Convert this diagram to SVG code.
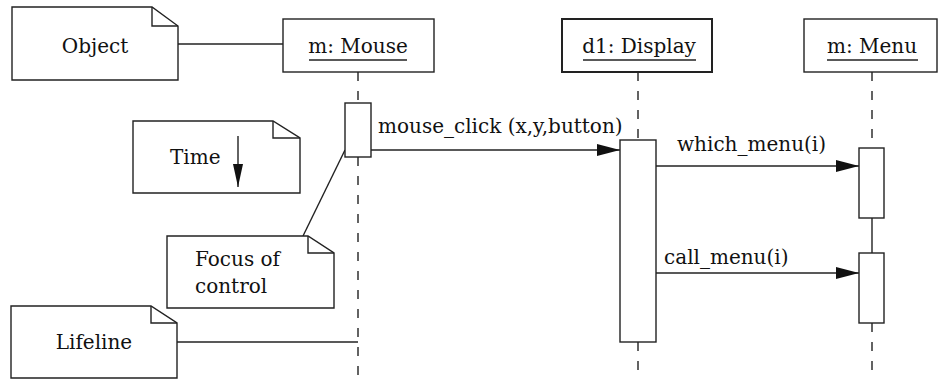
<svg xmlns="http://www.w3.org/2000/svg" width="939" height="380" viewBox="0 0 939 380">
<defs>
<marker id="arr" markerWidth="23" markerHeight="14" refX="23" refY="7" orient="auto" markerUnits="userSpaceOnUse">
<path d="M0,1 L23,7 L0,13 Z" fill="#111"/>
</marker>
<marker id="arrv" markerWidth="12" markerHeight="23" refX="6" refY="23" orient="0" markerUnits="userSpaceOnUse">
<path d="M1,0 L6,23 L11,0 Z" fill="#111"/>
</marker>
<style>
.s{fill:#fff;stroke:#222;stroke-width:1.4}
.l{fill:none;stroke:#222;stroke-width:1.4}
.d{fill:none;stroke:#222;stroke-width:1.4;stroke-dasharray:9 10}
.t{font-family:"DejaVu Serif","Liberation Serif",serif;font-size:20px;fill:#111}
</style>
</defs>
<rect width="939" height="380" fill="#fff"/>
<g id="lifelines">
<path class="d" d="M358,72 V103 M358,157 V380"/>
<path class="d" d="M638,72 V140 M638,342 V380"/>
<path class="d" d="M872,72 V148 M872,323 V380"/>
<path class="l" d="M872,218 V253"/>
</g>
<g id="connectors">
<path class="l" d="M178,44 H283"/>
<path class="l" d="M345,150 L303,236"/>
<path class="l" d="M177,342 H358"/>
<path class="l" d="M371,150 H620" marker-end="url(#arr)"/>
<path class="l" d="M656,166 H859" marker-end="url(#arr)"/>
<path class="l" d="M656,273 H859" marker-end="url(#arr)"/>
<text class="t" x="378" y="133">mouse_click (x,y,button)</text>
<text class="t" x="677" y="151">which_menu(i)</text>
<text class="t" x="664" y="264">call_menu(i)</text>
</g>
<g id="note-object">
<path class="s" d="M12,7 H152 L178,26 V80 H12 Z"/>
<path class="l" d="M152,7 V26 H178"/>
<text class="t" x="95" y="53" text-anchor="middle">Object</text>
</g>
<g id="mouse">
<rect class="s" x="283" y="19" width="151" height="53"/>
<text class="t" x="358" y="53" text-anchor="middle">m: Mouse</text>
<path class="l" d="M309,60 H407"/>
</g>
<g id="display">
<rect class="s" x="562" y="19" width="150" height="53" style="stroke-width:2"/>
<text class="t" x="639" y="53" text-anchor="middle">d1: Display</text>
<path class="l" d="M583,60 H696"/>
</g>
<g id="menu">
<rect class="s" x="804" y="19" width="133" height="53"/>
<text class="t" x="872" y="53" text-anchor="middle">m: Menu</text>
<path class="l" d="M827,60 H918"/>
</g>
<g id="act-mouse"><rect class="s" x="345" y="103" width="26" height="54"/></g>
<g id="act-display"><rect class="s" x="620" y="140" width="36" height="202"/></g>
<g id="act-menu1"><rect class="s" x="859" y="148" width="25" height="70"/></g>
<g id="act-menu2"><rect class="s" x="859" y="253" width="25" height="70"/></g>
<g id="note-time">
<path class="s" d="M133,121 H273 L300,138 V193 H133 Z"/>
<path class="l" d="M273,121 V138 H300"/>
<text class="t" x="170" y="164">Time</text>
<path class="l" d="M238,136 V187" marker-end="url(#arrv)"/>
</g>
<g id="note-focus">
<path class="s" d="M167,236 H308 L334,253 V308 H167 Z"/>
<path class="l" d="M308,236 V253 H334"/>
<text class="t" x="195" y="266">Focus of</text>
<text class="t" x="195" y="293">control</text>
</g>
<g id="note-lifeline">
<path class="s" d="M11,306 H151 L177,323 V378 H11 Z"/>
<path class="l" d="M151,306 V323 H177"/>
<text class="t" x="94" y="349" text-anchor="middle">Lifeline</text>
</g>
</svg>
